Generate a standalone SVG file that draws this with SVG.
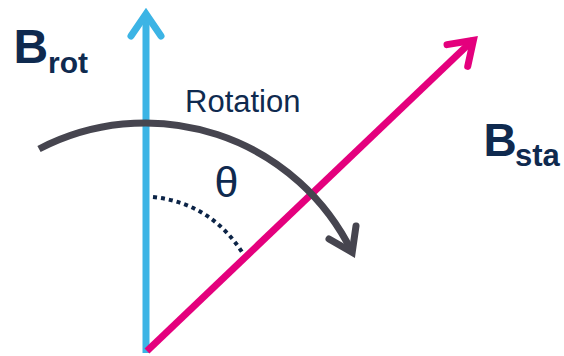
<svg xmlns="http://www.w3.org/2000/svg" width="564" height="356" viewBox="0 0 564 356">
<style>
.lbl{font-family:"Liberation Sans",Arial,sans-serif;fill:#0f2a4f}
.b{font-weight:bold}
.ln{fill:none;stroke-width:7}
.hd{fill:none;stroke-width:7;stroke-linejoin:miter;stroke-linecap:round;stroke-miterlimit:10}
</style>
<rect width="564" height="356" fill="#ffffff"/>
<g id="connectors">
  <g id="b-rot-vector">
    <path class="ln" d="M146,353 L146,14" stroke="#3cb4e5"/>
    <path class="hd" d="M131,36 L146,14 L161,36" stroke="#3cb4e5"/>
  </g>
  <g id="b-sta-vector">
    <path class="ln" d="M147,351 L473,40" stroke="#e4007d"/>
    <path class="hd" d="M447,44.6 L473.4,40.3 L467.7,66.4" stroke="#e4007d"/>
  </g>
  <g id="rotation-arc">
    <path class="ln" d="M39,149 A230,230 0 0 1 352,252" stroke="#46454f" stroke-width="8"/>
    <path class="hd" d="M356,226 L352.2,252.3 L329,239" stroke="#46454f" stroke-width="8"/>
  </g>
  <g id="theta-arc">
    <path d="M153,197 Q210,203 242,252" fill="none" stroke="#0c2447" stroke-width="4" stroke-dasharray="4 4"/>
  </g>
</g>
<g id="label-brot">
  <text class="lbl b" x="13.5" y="63" font-size="48">B</text>
  <text class="lbl b" x="48" y="73" font-size="30">rot</text>
</g>
<g id="label-bsta">
  <text class="lbl b" x="483.5" y="156" font-size="46">B</text>
  <text class="lbl b" x="515" y="166" font-size="31">sta</text>
</g>
<g id="label-rotation">
  <text class="lbl" x="185" y="112" font-size="31">Rotation</text>
</g>
<g id="label-theta">
  <text class="lbl" x="226.5" y="197" font-size="43" text-anchor="middle">θ</text>
</g>
</svg>
